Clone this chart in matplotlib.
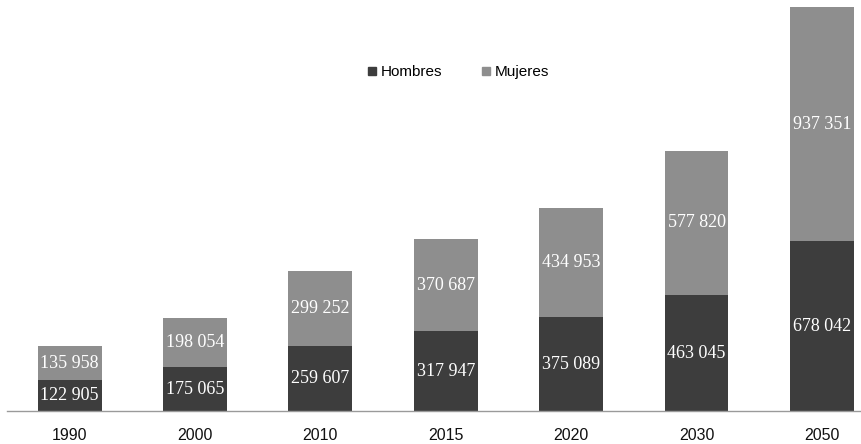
import matplotlib
matplotlib.use("Agg")
import matplotlib.pyplot as plt
from matplotlib.lines import Line2D

years = ["1990", "2000", "2010", "2015", "2020", "2030", "2050"]
hombres = [122905, 175065, 259607, 317947, 375089, 463045, 678042]
mujeres = [135958, 198054, 299252, 370687, 434953, 577820, 937351]

c_h = "#3d3d3d"
c_m = "#8e8e8e"

def fmt(v):
    return f"{v:,}".replace(",", " ")

fig = plt.figure(figsize=(8.62, 4.44), dpi=100)
ax = fig.add_axes([7 / 862, 33 / 444, 855 / 862, 411 / 444])

x = list(range(len(years)))
w = 0.51
bh = ax.bar(x, hombres, w, color=c_h, zorder=2)
bm = ax.bar(x, mujeres, w, bottom=hombres, color=c_m, zorder=2)

for i in x:
    ax.text(i, hombres[i] / 2, fmt(hombres[i]), ha="center", va="center",
            color="white", fontsize=13, family="Liberation Serif", zorder=3)
    ax.text(i, hombres[i] + mujeres[i] / 2, fmt(mujeres[i]), ha="center", va="center",
            color="white", fontsize=13, family="Liberation Serif", zorder=3)

ax.set_xlim(-0.5, 6.32)
ax.set_ylim(0, 1643400)
ax.set_xticks(x)
ax.set_xticklabels(years, family="Liberation Sans", fontsize=11.5, color="#111111")
ax.tick_params(axis="x", length=0, pad=12)
ax.set_yticks([])
for s in ["top", "right", "left"]:
    ax.spines[s].set_visible(False)
ax.spines["bottom"].set_color("#9a9a9a")
ax.spines["bottom"].set_linewidth(1)

handles = [
    Line2D([], [], marker="s", linestyle="none", color=c_h, markersize=6),
    Line2D([], [], marker="s", linestyle="none", color=c_m, markersize=6),
]
fig.legend(handles, ["Hombres", "Mujeres"], loc="center", bbox_to_anchor=(0.530, 0.838),
           ncol=2, frameon=False, handletextpad=0.05, columnspacing=2.4,
           handlelength=1.0, prop={"family": "Liberation Sans", "size": 11})

fig.savefig("out.png", dpi=100)
